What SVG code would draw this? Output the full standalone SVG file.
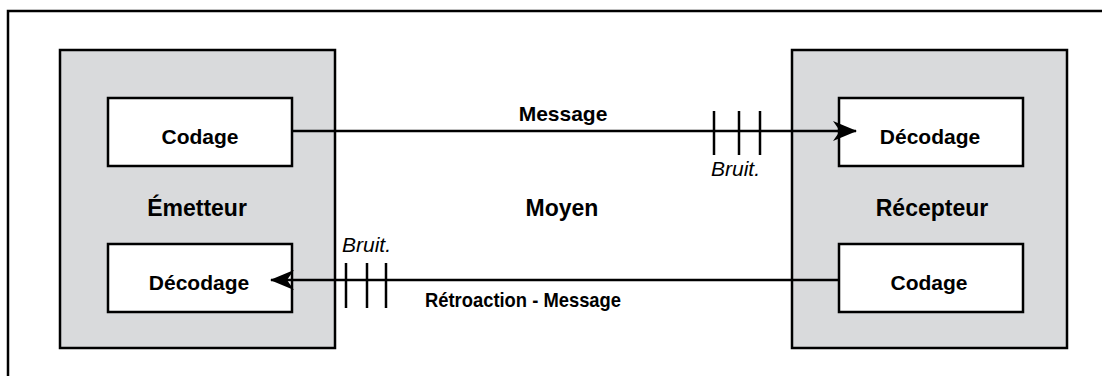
<svg xmlns="http://www.w3.org/2000/svg" width="1102" height="376" viewBox="0 0 1102 376">
<style>
.frame{fill:#fff;stroke:#000;stroke-width:2.5}
.outer{fill:#d9dadc;stroke:#000;stroke-width:2.5}
.inner{fill:#fff;stroke:#000;stroke-width:2.5}
.b{font-family:"Liberation Sans",Arial,sans-serif;font-weight:bold;font-size:21px;fill:#000;text-anchor:middle}
.big{font-size:23px}
.i{font-family:"Liberation Sans",Arial,sans-serif;font-style:italic;font-size:21px;fill:#000}
.ln{stroke:#000;stroke-width:2.5;fill:none}
</style>
<defs>
<marker id="ah" viewBox="0 0 24 20" refX="23" refY="10" markerWidth="24" markerHeight="20" markerUnits="userSpaceOnUse" orient="auto">
<path d="M0,0 L24,10 L0,20 L7,10 Z" fill="#000"/>
</marker>
</defs>
<rect x="0" y="0" width="1102" height="376" fill="#fff"/>
<rect class="frame" x="8" y="11" width="1110" height="380"/>
<g id="emetteur">
<rect class="outer" x="60" y="50" width="275" height="298"/>
<text class="b big" x="197" y="216">Émetteur</text>
</g>
<g id="emetteur-codage">
<rect class="inner" x="108" y="98" width="184" height="68"/>
<text class="b" x="200" y="144">Codage</text>
</g>
<g id="emetteur-decodage">
<rect class="inner" x="108" y="244" width="184" height="68"/>
<text class="b" x="199" y="290">Décodage</text>
</g>
<g id="recepteur">
<rect class="outer" x="792" y="50" width="275" height="298"/>
<text class="b big" x="932" y="216">Récepteur</text>
</g>
<g id="recepteur-decodage">
<rect class="inner" x="839" y="98" width="184" height="68"/>
<text class="b" x="930" y="144">Décodage</text>
</g>
<g id="recepteur-codage">
<rect class="inner" x="839" y="244" width="184" height="68"/>
<text class="b" x="929" y="290">Codage</text>
</g>
<g id="moyen">
<text class="b big" x="562" y="216">Moyen</text>
</g>
<g id="connectors">
<line class="ln" x1="292" y1="131" x2="856" y2="131" marker-end="url(#ah)"/>
<line class="ln" x1="714" y1="111" x2="714" y2="155"/>
<line class="ln" x1="739" y1="111" x2="739" y2="155"/>
<line class="ln" x1="760" y1="111" x2="760" y2="155"/>
<text class="b" x="563" y="121">Message</text>
<text class="i" x="711" y="176">Bruit.</text>
<line class="ln" x1="839" y1="280" x2="271" y2="280" marker-end="url(#ah)"/>
<line class="ln" x1="346" y1="263" x2="346" y2="308"/>
<line class="ln" x1="367" y1="263" x2="367" y2="308"/>
<line class="ln" x1="386" y1="263" x2="386" y2="308"/>
<text class="i" x="342" y="252">Bruit.</text>
<text class="b" x="523" y="307" textLength="196" lengthAdjust="spacingAndGlyphs">Rétroaction - Message</text>
</g>
</svg>
